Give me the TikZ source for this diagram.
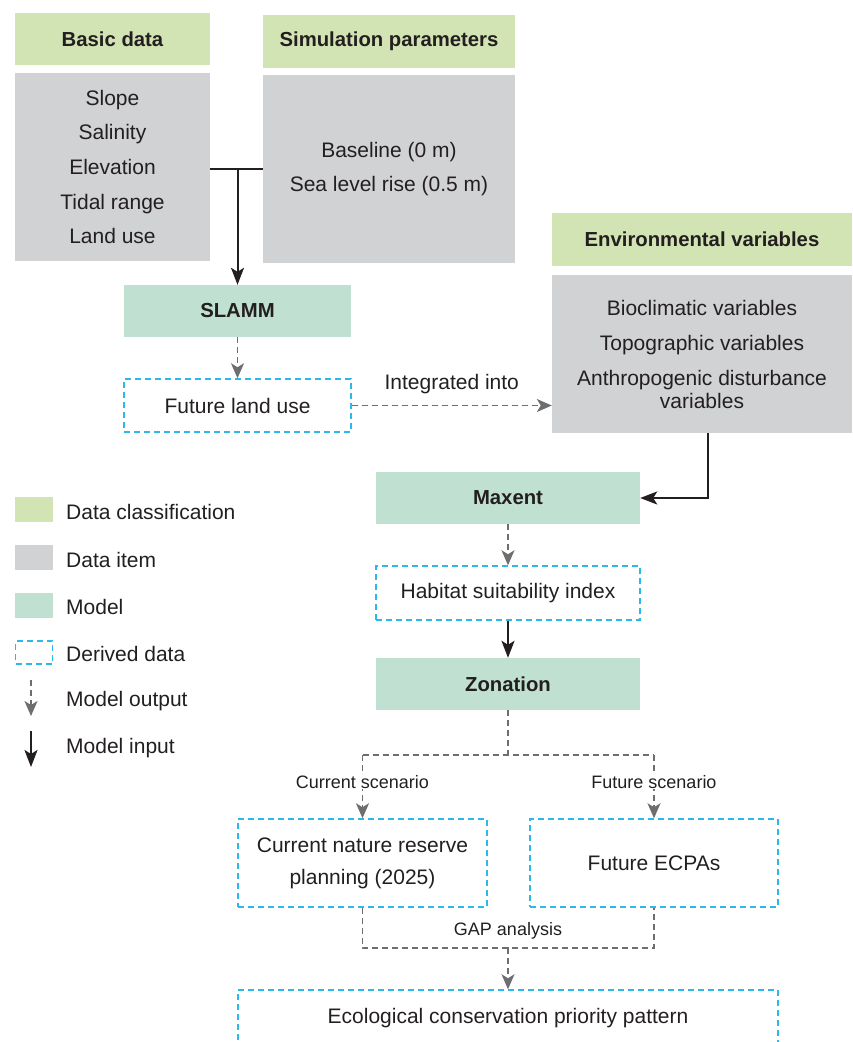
\documentclass[tikz,border=0pt]{standalone}
\usepackage{fontspec}
\setmainfont{Liberation Sans}
\usetikzlibrary{arrows.meta}

\definecolor{clsgreen}{HTML}{D3E4B4}
\definecolor{itemgray}{HTML}{D1D2D4}
\definecolor{modelteal}{HTML}{C0E0D2}
\definecolor{derivedcyan}{HTML}{2BB8EA}
\definecolor{outgray}{HTML}{6D6E70}
\definecolor{txtdark}{HTML}{231F20}

\tikzset{
    every node/.style = {text = txtdark, font = \fontsize{21}{25}\selectfont},
    clshead/.style = {fill = clsgreen, inner sep = 0pt, minimum height = 53pt,
        font = \bfseries\fontsize{20.3}{23}\selectfont},
    itembox/.style = {fill = itemgray, inner sep = 0pt, align = center},
    modelbox/.style = {fill = modelteal, inner sep = 0pt, minimum height = 52pt,
        font = \bfseries\fontsize{20.3}{23}\selectfont},
    derivedbox/.style = {draw = derivedcyan, line width = 1.5pt, dash pattern = on 6pt off 4pt,
        inner sep = 0pt, align = center},
    smalllbl/.style = {font = \fontsize{18}{22}\selectfont},
    legtext/.style = {anchor = west, inner sep = 0pt},
    outline/.style = {draw = outgray, line width = 1.5pt, dash pattern = on 6pt off 4pt},
    output/.style = {outline, -{Stealth[length = 15pt, width = 13pt, inset = 4pt]}},
    input/.style = {draw = txtdark, line width = 2pt, -{Stealth[length = 17pt, width = 13pt, inset = 4pt]}}
}

\begin{document}
\begin{tikzpicture}[x = 1pt, y = -1pt]
    \clip (0,0) rectangle (852,1042);
    \draw
    (112.5,39)node(bdhead)[clshead, minimum width = 195pt, minimum height = 52pt]{Basic data}
    (112.5,167)node(bditems)[itembox, minimum width = 195pt, minimum height = 188pt,
        font = \fontsize{21}{34.7}\selectfont]{Slope\\Salinity\\Elevation\\Tidal range\\Land use}
    (389,41.5)node(sphead)[clshead, minimum width = 252pt]{Simulation parameters}
    (389,169)node(spitems)[itembox, minimum width = 252pt, minimum height = 188pt,
        font = \fontsize{21}{34}\selectfont]{Baseline (0 m)\\Sea level rise (0.5 m)}
    (237.5,311)node(slamm)[modelbox, minimum width = 227pt]{SLAMM}
    (237.5,405.5)node(fland)[derivedbox, minimum width = 227pt, minimum height = 53pt]{Future land use}
    (702,239.5)node(envhead)[clshead, minimum width = 300pt]{Environmental variables}
    (702,354)node(envitems)[itembox, minimum width = 300pt, minimum height = 158pt,
        font = \fontsize{21}{23}\selectfont]{Bioclimatic variables\\[12pt]Topographic variables\\[12pt]Anthropogenic disturbance\\variables}
    (508,498)node(maxent)[modelbox, minimum width = 264pt]{Maxent}
    (508,593)node(hsi)[derivedbox, minimum width = 264pt, minimum height = 54pt]{Habitat suitability index}
    (508,684)node(zonation)[modelbox, minimum width = 264pt]{Zonation}
    (362.5,863)node(cnrp)[derivedbox, minimum width = 249pt, minimum height = 88pt,
        font = \fontsize{21}{32}\selectfont]{Current nature reserve\\planning (2025)}
    (654,863)node(fecpa)[derivedbox, minimum width = 248pt, minimum height = 88pt]{Future ECPAs}
    (508,1018)node(ecpp)[derivedbox, minimum width = 540pt, minimum height = 56pt]{Ecological conservation priority pattern};
    %
    \coordinate (jn) at (237.5,169);
    \coordinate (sp) at (508,755);
    \coordinate (gp) at (508,948);
    %
    \draw [draw = txtdark, line width = 2pt](bditems.east |- jn)--(spitems.west |- jn);
    \draw [input](jn)--(slamm.north);
    \draw [output](slamm)--(fland);
    \draw [output](fland.east)--node[above = 8pt]{Integrated into}(envitems.west |- fland.east);
    \draw [input]([xshift = 6pt]envitems.south)|-(maxent.east);
    \draw [output](maxent)--(hsi);
    \draw [input](hsi)--(zonation);
    \draw [outline](zonation)--(sp);
    \draw [outline](sp -| cnrp)--(sp -| fecpa);
    \draw [output](sp -| cnrp)--node[smalllbl, pos = 0.42, fill = white, inner sep = 1pt]{Current scenario}(cnrp.north);
    \draw [output](sp -| fecpa)--node[smalllbl, pos = 0.42, fill = white, inner sep = 1pt]{Future scenario}(fecpa.north);
    \draw [outline](cnrp.south)|-(gp)-|(fecpa.south);
    \node (gaplbl)[smalllbl] at (508,931){GAP analysis};
    \draw [output](gp)--(ecpp.north);
    %
    % legend
    \draw
    (34,509.5)node(lgcls)[fill = clsgreen, minimum width = 38pt, minimum height = 25pt, inner sep = 0pt]{}
    (34,557.5)node(lgitem)[fill = itemgray, minimum width = 38pt, minimum height = 25pt, inner sep = 0pt]{}
    (34,605.5)node(lgmodel)[fill = modelteal, minimum width = 38pt, minimum height = 25pt, inner sep = 0pt]{}
    (34,652.5)node(lgderived)[derivedbox, minimum width = 37pt, minimum height = 23pt]{}
    (66,512)node(lgclstxt)[legtext]{Data classification}
    (66,560)node(lgitemtxt)[legtext]{Data item}
    (66,607)node(lgmodeltxt)[legtext]{Model}
    (66,654)node(lgderivedtxt)[legtext]{Derived data}
    (66,701)node(lgouttxt)[legtext]{Model output}
    (66,748)node(lgintxt)[legtext]{Model input};
    \coordinate (lgout1) at (31,680);
    \coordinate (lgout2) at (31,716);
    \coordinate (lgin1) at (31,731);
    \coordinate (lgin2) at (31,767);
    \draw [output](lgout1)--(lgout2);
    \draw [input](lgin1)--(lgin2);
\end{tikzpicture}
\end{document}
